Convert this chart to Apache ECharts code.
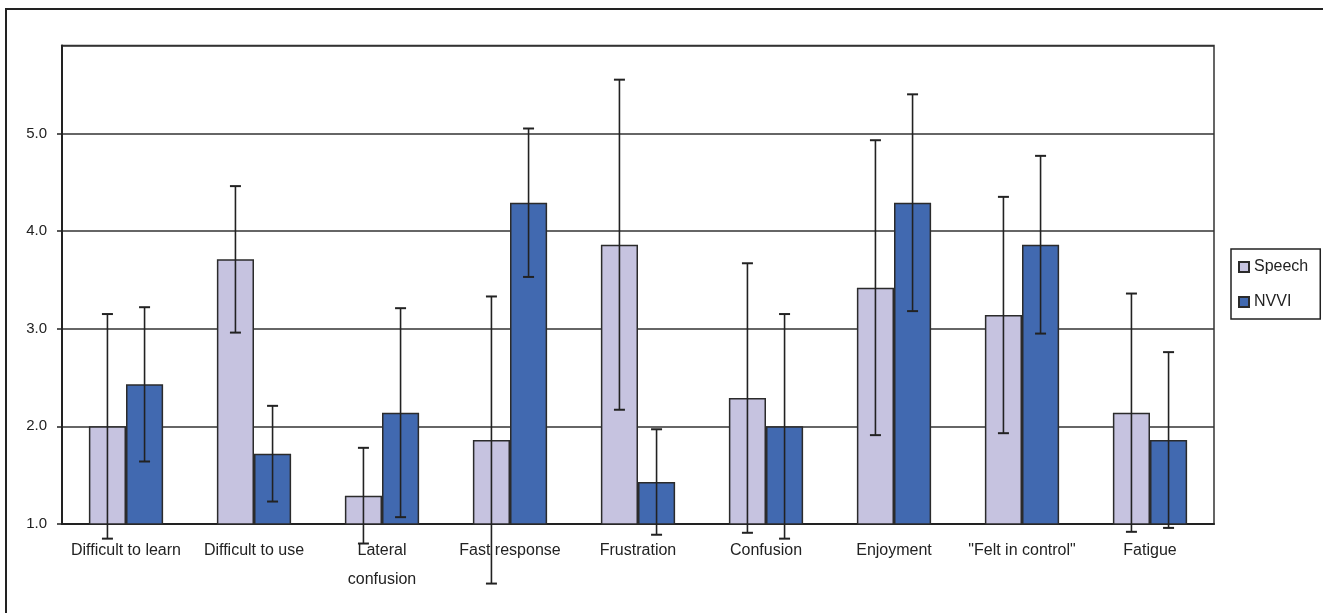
<!DOCTYPE html>
<html>
<head>
<meta charset="utf-8">
<script src="https://cdn.jsdelivr.net/npm/echarts@6/dist/echarts.min.js"></script>
<style>
  html, body { margin: 0; padding: 0; background: #fff; }
  #chart { width: 1323px; height: 613px; }
</style>
</head>
<body>
<div id="chart"></div>
<script>
// Questionnaire ratings: mean and standard deviation per item, for each interface
const categories = [
  'Difficult to learn', 'Difficult to use', 'Lateral\nconfusion', 'Fast response',
  'Frustration', 'Confusion', 'Enjoyment', '"Felt in control"', 'Fatigue'
];
const speechMean = [2.00, 3.71, 1.29, 1.86, 3.86, 2.29, 3.42, 3.14, 2.14];
const speechSD   = [1.15, 0.75, 0.49, 1.47, 1.69, 1.38, 1.51, 1.21, 1.22];
const nvviMean   = [2.43, 1.72, 2.14, 4.29, 1.43, 2.00, 4.29, 3.86, 1.86];
const nvviSD     = [0.79, 0.49, 1.07, 0.76, 0.54, 1.15, 1.11, 0.91, 0.90];
const yTicks = [1, 2, 3, 4, 5];

const FONT = '"Liberation Sans", Arial, sans-serif';
const INK = '#222';
const CATEGORY_GAP = 0.42;

// Error bar: vertical line from mean-sd to mean+sd with caps, shifted onto its bar
function errorBars(name, means, sds, side) {
  return {
    type: 'custom',
    name: name,
    z: 5,
    clip: false,
    silent: true,
    data: means.map((m, i) => [i, m - sds[i], m + sds[i]]),
    renderItem(params, api) {
      const i = api.value(0);
      const lo = api.coord([i, api.value(1)]);
      const hi = api.coord([i, api.value(2)]);
      const band = api.size([1, 0])[0];
      const barW = band * (1 - CATEGORY_GAP) / 2;
      const x = lo[0] + side * barW / 2;
      const cap = 5.5;
      const st = { stroke: INK, lineWidth: 1.6 };
      return {
        type: 'group',
        children: [
          { type: 'line', shape: { x1: x, y1: lo[1], x2: x, y2: hi[1] }, style: st },
          { type: 'line', shape: { x1: x - cap, y1: hi[1], x2: x + cap, y2: hi[1] }, style: { stroke: INK, lineWidth: 2 } },
          { type: 'line', shape: { x1: x - cap, y1: lo[1], x2: x + cap, y2: lo[1] }, style: { stroke: INK, lineWidth: 2 } }
        ]
      };
    }
  };
}

const chart = echarts.init(document.getElementById('chart'), null, { renderer: 'canvas' });

chart.setOption({
  animation: false,
  backgroundColor: '#fff',
  textStyle: { fontFamily: FONT, color: INK },
  graphic: [{
    type: 'rect',
    silent: true,
    shape: { x: 6, y: 9, width: 1400, height: 700 },
    style: { fill: 'none', stroke: INK, lineWidth: 2 }
  }],
  grid: {
    left: 62, right: 109, top: 45.5, bottom: 89,
    show: true, borderColor: '#333', borderWidth: 1.5, backgroundColor: 'transparent'
  },
  legend: {
    data: ['Speech', 'NVVI'],
    orient: 'vertical',
    left: 1231, top: 249,
    padding: [9, 12, 8, 7],
    itemGap: 17,
    itemWidth: 10, itemHeight: 10,
    icon: 'rect',
    borderColor: INK, borderWidth: 1.5,
    textStyle: { fontFamily: FONT, fontSize: 16, color: INK, lineHeight: 18 }
  },
  xAxis: {
    type: 'category',
    data: categories,
    axisLine: { lineStyle: { color: INK, width: 2 } },
    axisTick: { length: 5, lineStyle: { color: INK, width: 1.5 } },
    axisLabel: {
      interval: 0, margin: 12, fontFamily: FONT, fontSize: 16, color: INK,
      lineHeight: 29, align: 'center'
    },
    splitLine: { show: false }
  },
  yAxis: {
    type: 'value',
    min: 1, max: 5.9, interval: 1,
    axisLine: { show: true, lineStyle: { color: INK, width: 2 } },
    axisTick: { show: true, length: 5, lineStyle: { color: INK, width: 1.5 } },
    axisLabel: {
      margin: 15, fontFamily: FONT, fontSize: 15, color: INK,
      showMaxLabel: false,
      padding: [0, 0, 5, 0],
      formatter: v => (yTicks.includes(v) ? v.toFixed(1) : '')
    },
    splitLine: { show: true, lineStyle: { color: '#333', width: 1.5 } }
  },
  series: [
    {
      name: 'Speech', type: 'bar', data: speechMean,
      barGap: '0%', barCategoryGap: (CATEGORY_GAP * 100) + '%',
      itemStyle: { color: '#c6c3e0', borderColor: '#2b2b2b', borderWidth: 1.5 }
    },
    {
      name: 'NVVI', type: 'bar', data: nvviMean,
      barGap: '0%', barCategoryGap: (CATEGORY_GAP * 100) + '%',
      itemStyle: { color: '#4169b0', borderColor: '#2b2b2b', borderWidth: 1.5 }
    },
    errorBars('Speech SD', speechMean, speechSD, -1),
    errorBars('NVVI SD', nvviMean, nvviSD, 1)
  ]
});
</script>
</body>
</html>
